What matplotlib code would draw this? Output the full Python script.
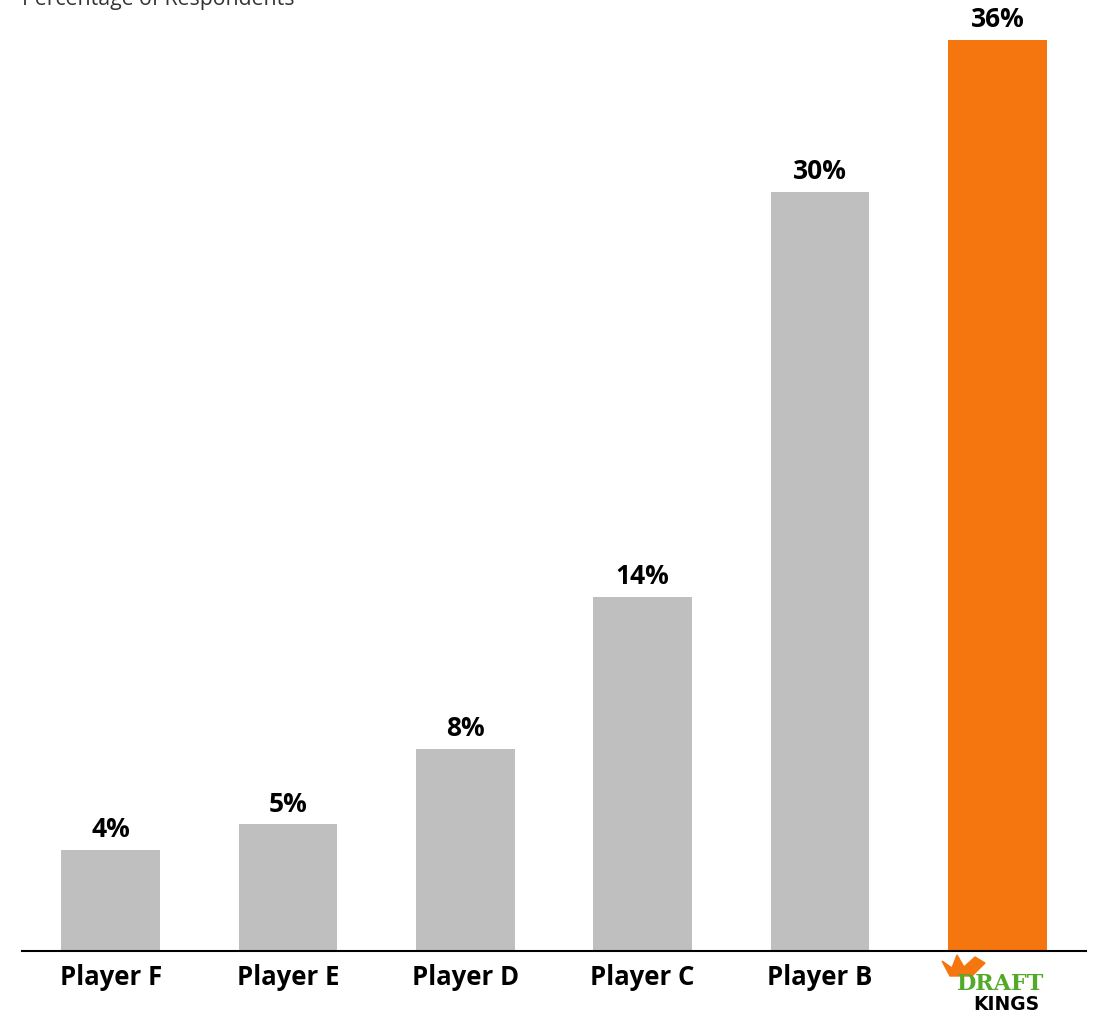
import matplotlib.pyplot as plt
from matplotlib.patches import Polygon

plt.rcParams['font.family'] = ['Open Sans', 'DejaVu Sans']

categories = ["Player F", "Player E", "Player D", "Player C", "Player B", "DraftKings"]
values = [4, 5, 8, 14, 30, 36]
colors = ["#bfbfbf"] * 5 + ["#f5760f"]

W, H = 1099, 1013
fig = plt.figure(figsize=(W / 100, H / 100), dpi=100)
ax = fig.add_axes([22 / W, (H - 951) / H, (1086 - 22) / W, (951 - 40) / H])

x = range(len(categories))
bars = ax.bar(x, values, width=0.555, color=colors)
for b, v in zip(bars, values):
    ax.annotate(f"{v}%", (b.get_x() + b.get_width() / 2, v), xytext=(0, 5),
                textcoords="offset points", ha="center", va="bottom",
                fontsize=19, fontweight="bold", annotation_clip=False)

ax.set_xlim(-0.5, 5.5)
ax.set_ylim(0, 36)
for s in ["top", "right", "left"]:
    ax.spines[s].set_visible(False)
ax.spines["bottom"].set_linewidth(1.5)
ax.set_yticks([])
ax.set_xticks(list(x)[:5])
ax.set_xticklabels(categories[:5], fontsize=18.5, fontweight="bold")
ax.tick_params(axis="x", length=0, pad=9)

# DraftKings logo in place of the last label
fig.text(1001 / W, 1 - 984 / H, "DRAFT", color="#53a928", fontsize=16,
         fontweight="heavy", ha="center", va="center", family="DejaVu Serif")
fig.text(1006 / W, 1 - 1004 / H, "KINGS", color="black", fontsize=13.5,
         fontweight="heavy", ha="center", va="center", family="DejaVu Sans")
crown = [(942, 961), (952, 968), (957, 955), (964, 967), (975, 957), (985, 963),
         (972, 976), (950, 976)]
fig.add_artist(Polygon([(px / W, 1 - py / H) for px, py in crown], closed=True,
                       transform=fig.transFigure, color="#f5760f"))

fig.text(22 / W, 1 - 5 / H, "Percentage of Respondents", fontsize=15.3,
         color="#333333", ha="left", va="baseline")

plt.savefig("out.png", dpi=100)
